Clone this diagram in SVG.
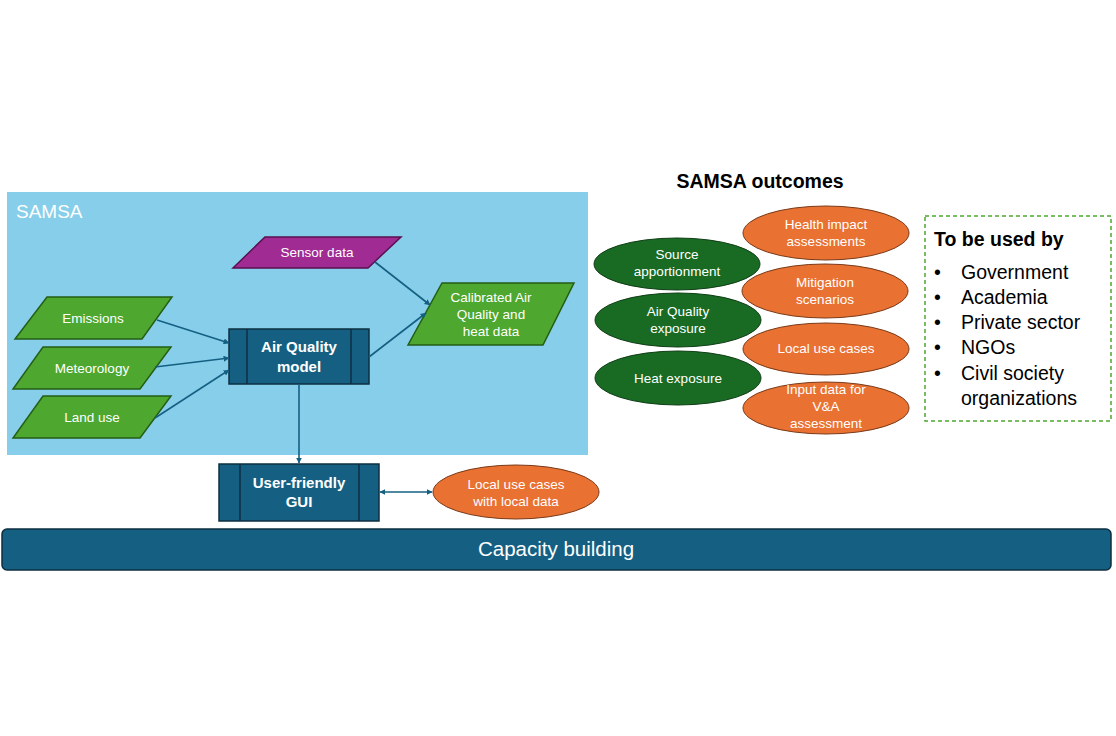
<svg xmlns="http://www.w3.org/2000/svg" width="1116" height="736" viewBox="0 0 1116 736">
<defs>
<marker id="ah" viewBox="0 0 10 10" refX="9" refY="5" markerWidth="6" markerHeight="6" orient="auto-start-reverse" markerUnits="userSpaceOnUse">
<path d="M0,0 L10,5 L0,10 z" fill="#156082"/>
</marker>
<style>
text{font-family:"Liberation Sans",Arial,sans-serif;}
.w{fill:#ffffff;font-size:13.5px;text-anchor:middle;}
.wb{fill:#ffffff;font-size:15px;font-weight:bold;text-anchor:middle;}
.gp{fill:#4ea72e;stroke:#255e16;stroke-width:1.5;}
.box{fill:#156082;stroke:#0c2f40;stroke-width:1.5;}
.ge{fill:#196b24;stroke:#0f3d15;stroke-width:1;}
.oe{fill:#e97132;stroke:#7a3a18;stroke-width:1;}
.c{stroke:#156082;stroke-width:1.6;fill:none;}
.k{fill:#000;font-size:19.5px;}
</style>
</defs>
<rect width="1116" height="736" fill="#ffffff"/>
<g id="samsa">
<rect x="7" y="192" width="581" height="263" fill="#87ceea"/>
<text x="16" y="218" fill="#ffffff" style="font-size:19px">SAMSA</text>
</g>
<g id="sensor">
<polygon points="265,237 401,237 368,268 233,268" fill="#a02b93" stroke="#5a1050" stroke-width="1.5"/>
<text class="w" x="317" y="257">Sensor data</text>
</g>
<g id="emissions">
<polygon class="gp" points="47,297 172,297 142,339 15,339"/>
<text class="w" x="93" y="323">Emissions</text>
</g>
<g id="meteorology">
<polygon class="gp" points="43,347 171,347 140,389 13,389"/>
<text class="w" x="92" y="373">Meteorology</text>
</g>
<g id="landuse">
<polygon class="gp" points="43,396 171,396 140,438 13,438"/>
<text class="w" x="92" y="422">Land use</text>
</g>
<g id="calibrated">
<polygon class="gp" points="442,283 574,283 543,345 408,345"/>
<text class="w" x="491" y="302">Calibrated Air</text>
<text class="w" x="491" y="319">Quality and</text>
<text class="w" x="491" y="336">heat data</text>
</g>
<g id="aqmodel">
<rect class="box" x="229" y="329" width="140" height="55"/>
<line x1="247" y1="329" x2="247" y2="384" stroke="#0c2f40" stroke-width="1.5"/>
<line x1="351" y1="329" x2="351" y2="384" stroke="#0c2f40" stroke-width="1.5"/>
<text class="wb" x="299" y="352">Air Quality</text>
<text class="wb" x="299" y="372">model</text>
</g>
<g id="gui">
<rect class="box" x="219" y="464" width="160" height="57"/>
<line x1="240" y1="464" x2="240" y2="521" stroke="#0c2f40" stroke-width="1.5"/>
<line x1="359" y1="464" x2="359" y2="521" stroke="#0c2f40" stroke-width="1.5"/>
<text class="wb" x="299" y="488">User-friendly</text>
<text class="wb" x="299" y="507">GUI</text>
</g>
<g id="localdata">
<ellipse class="oe" cx="516" cy="492" rx="83" ry="27"/>
<text class="w" x="516" y="489">Local use cases</text>
<text class="w" x="516" y="506">with local data</text>
</g>
<g id="connectors">
<line class="c" x1="157" y1="320" x2="229" y2="343" marker-end="url(#ah)"/>
<line class="c" x1="155" y1="367" x2="229" y2="358" marker-end="url(#ah)"/>
<line class="c" x1="155" y1="418" x2="229" y2="370" marker-end="url(#ah)"/>
<line class="c" x1="375" y1="262" x2="430" y2="305" marker-end="url(#ah)"/>
<line class="c" x1="369" y1="357" x2="426" y2="313" marker-end="url(#ah)"/>
<line class="c" x1="299" y1="384" x2="299" y2="463" marker-end="url(#ah)"/>
<line class="c" x1="380" y1="492" x2="432" y2="492" marker-start="url(#ah)" marker-end="url(#ah)"/>
</g>
<g id="capacity">
<rect x="2" y="529" width="1109" height="41" rx="5" fill="#156082" stroke="#0c2f40" stroke-width="1.5"/>
<text x="556" y="556" fill="#ffffff" style="font-size:20.5px;text-anchor:middle">Capacity building</text>
</g>
<g id="outcomes-title">
<text x="760" y="188" style="font-size:19.5px;font-weight:bold;text-anchor:middle" fill="#000">SAMSA outcomes</text>
</g>
<g id="source">
<ellipse class="ge" cx="677" cy="264" rx="83" ry="26"/>
<text class="w" x="677" y="259">Source</text>
<text class="w" x="677" y="276">apportionment</text>
</g>
<g id="aqexposure">
<ellipse class="ge" cx="678" cy="320" rx="83" ry="27"/>
<text class="w" x="678" y="316">Air Quality</text>
<text class="w" x="678" y="333">exposure</text>
</g>
<g id="heat">
<ellipse class="ge" cx="678" cy="378" rx="83" ry="27"/>
<text class="w" x="678" y="383">Heat exposure</text>
</g>
<g id="health">
<ellipse class="oe" cx="826" cy="233" rx="83" ry="27"/>
<text class="w" x="826" y="229">Health impact</text>
<text class="w" x="826" y="246">assessments</text>
</g>
<g id="mitigation">
<ellipse class="oe" cx="825" cy="291" rx="83" ry="27"/>
<text class="w" x="825" y="287">Mitigation</text>
<text class="w" x="825" y="304">scenarios</text>
</g>
<g id="localuse">
<ellipse class="oe" cx="826" cy="349" rx="83" ry="26"/>
<text class="w" x="826" y="353">Local use cases</text>
</g>
<g id="inputdata">
<ellipse class="oe" cx="826" cy="408" rx="83" ry="26"/>
<text class="w" x="826" y="394">Input data for</text>
<text class="w" x="826" y="411">V&amp;A</text>
<text class="w" x="826" y="428">assessment</text>
</g>
<g id="usedby">
<rect x="925" y="216" width="186" height="205" fill="none" stroke="#4ea72e" stroke-width="1.5" stroke-dasharray="4,3"/>
<text class="k" x="934" y="246" style="font-weight:bold">To be used by</text>
<text class="k" x="934" y="279">•</text><text class="k" x="961" y="279">Government</text>
<text class="k" x="934" y="304">•</text><text class="k" x="961" y="304">Academia</text>
<text class="k" x="934" y="329">•</text><text class="k" x="961" y="329">Private sector</text>
<text class="k" x="934" y="354">•</text><text class="k" x="961" y="354">NGOs</text>
<text class="k" x="934" y="380">•</text><text class="k" x="961" y="380">Civil society</text>
<text class="k" x="961" y="405">organizations</text>
</g>
</svg>
